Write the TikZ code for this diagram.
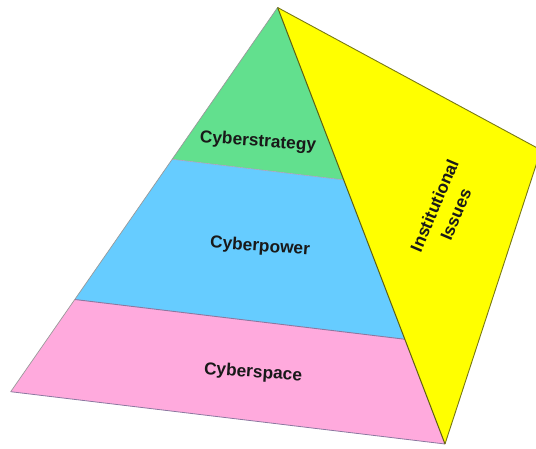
\documentclass[tikz,border=0pt]{standalone}
\usepackage{fontspec}
\setmainfont{Liberation Sans}
\usetikzlibrary{calc}
\definecolor{stratgreen}{RGB}{98,224,142}
\definecolor{powerblue}{RGB}{102,204,255}
\definecolor{spacepink}{RGB}{255,170,221}
\definecolor{issueyellow}{RGB}{255,255,0}
\definecolor{olive}{RGB}{120,120,20}
\definecolor{bandline}{RGB}{140,120,160}
\tikzset{
  face/.style={line join=round},
  tier/.style={font=\fontsize{17.3}{20}\selectfont\bfseries, text=black!90, inner sep=0pt, rotate=-4},
  side/.style={font=\fontsize{17.3}{23}\selectfont\bfseries, text=black!90, inner sep=0pt, align=center, rotate=67}
}
\begin{document}
\begin{tikzpicture}[x=1pt,y=-1pt]
  \useasboundingbox (0,0) rectangle (536,448);
  \clip (0,0) rectangle (536,448);
  % corners of the pyramid
  \coordinate (apex) at (277.6,7.5);
  \coordinate (bl) at (10.7,391.7);
  \coordinate (br) at (445,444);
  \coordinate (rc) at (541,150);
  % tier boundaries on the front face
  \coordinate (gbL) at ($(apex)!0.395!(bl)$);
  \coordinate (gbR) at ($(apex)!0.395!(br)$);
  \coordinate (bpL) at ($(apex)!0.76!(bl)$);
  \coordinate (bpR) at ($(apex)!0.76!(br)$);
  % side face
  \fill[issueyellow] (apex) -- (rc) -- (br) -- cycle;
  \draw[olive, line width=0.9pt, face] (apex) -- (rc) -- (br);
  % front face tiers
  \fill[stratgreen] (apex) -- (gbR) -- (gbL) -- cycle;
  \fill[powerblue] (gbL) -- (gbR) -- (bpR) -- (bpL) -- cycle;
  \fill[spacepink] (bpL) -- (bpR) -- (br) -- (bl) -- cycle;
  \draw[bandline!70, line width=0.6pt] (gbL) -- (gbR);
  \draw[bandline, line width=0.9pt] (bpL) -- (bpR);
  \draw[black!40, line width=0.7pt, face] (apex) -- (bl);
  \draw[bandline, line width=0.8pt] (bl) -- (br);
  \draw[olive!80!black, line width=1pt] (apex) -- (br);
  % labels
  \node[tier] (strategy) at (258,142) {Cyberstrategy};
  \node[tier] (power) at (260,247) {Cyberpower};
  \node[tier] (space) at (253,373) {Cyberspace};
  \node[side] (issues) at (445,210) {Institutional\\Issues};
\end{tikzpicture}
\end{document}
